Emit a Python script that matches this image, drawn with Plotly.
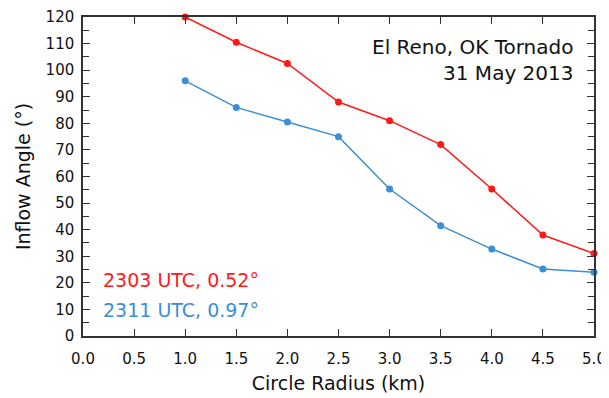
import plotly.graph_objects as go

radius = [1.0, 1.5, 2.0, 2.5, 3.0, 3.5, 4.0, 4.5, 5.0]
angle_2303 = [120, 110.5, 102.5, 88, 81, 72, 55.3, 38, 31]
angle_2311 = [96, 86, 80.5, 75, 55.3, 41.5, 32.7, 25.2, 24]
x_ticks = [0.0, 0.5, 1.0, 1.5, 2.0, 2.5, 3.0, 3.5, 4.0, 4.5, 5.0]
x_tick_labels = ["0.0", "0.5", "1.0", "1.5", "2.0", "2.5", "3.0", "3.5", "4.0", "4.5", "5.0"]

RED = "#ff1a1a"
BLUE = "#3a8fd6"
FONT = "DejaVu Sans"

fig = go.Figure()
fig.add_trace(go.Scatter(x=radius, y=angle_2303, mode="lines+markers",
                         line=dict(color=RED, width=1.5),
                         marker=dict(color=RED, size=7), cliponaxis=False))
fig.add_trace(go.Scatter(x=radius, y=angle_2311, mode="lines+markers",
                         line=dict(color=BLUE, width=1.5),
                         marker=dict(color=BLUE, size=7), cliponaxis=False))

axis_common = dict(showgrid=False, zeroline=False, showline=True, linecolor="#333333",
                   linewidth=1.5, mirror="ticks", ticks="inside", tickcolor="#333333",
                   tickwidth=1.2, ticklen=7, automargin=False,
                   tickfont=dict(family=FONT, size=15, color="#111111"))

fig.update_xaxes(range=[0, 5], tickvals=x_ticks, ticktext=x_tick_labels, ticklabelstandoff=8,
                 title=dict(text="Circle Radius (km)", font=dict(family=FONT, size=19, color="#111111"),
                            standoff=10),
                 **axis_common)
fig.update_yaxes(range=[0, 120], dtick=10, ticklabelstandoff=4,
                 minor=dict(dtick=5, ticks="inside", ticklen=6, tickcolor="#333333", tickwidth=1.2),
                 title=dict(text="Inflow Angle (°)", font=dict(family=FONT, size=19, color="#111111"),
                            standoff=10),
                 **axis_common)

fig.add_annotation(x=0.962, y=0.95, xref="paper", yref="paper", xanchor="right", yanchor="top",
                   text="El Reno, OK Tornado<br>31 May 2013", showarrow=False, align="right",
                   font=dict(family=FONT, size=20, color="#111111"))
fig.add_annotation(x=0.036, y=0.176, xref="paper", yref="paper", xanchor="left", yanchor="middle",
                   text="2303 UTC, 0.52°", showarrow=False,
                   font=dict(family=FONT, size=19, color=RED))
fig.add_annotation(x=0.036, y=0.082, xref="paper", yref="paper", xanchor="left", yanchor="middle",
                   text="2311 UTC, 0.97°", showarrow=False,
                   font=dict(family=FONT, size=19, color=BLUE))

# page body has an 8px default margin; compensate so plot area lands at x 83-594, y 17-336
fig.update_layout(width=601, height=390, showlegend=False,
                  margin=dict(l=75, r=15, t=9, b=62),
                  plot_bgcolor="white", paper_bgcolor="white")

fig.write_html("out.html")
